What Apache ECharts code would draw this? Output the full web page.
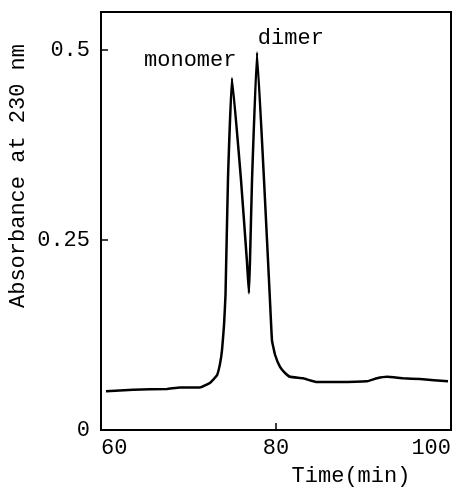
<!DOCTYPE html>
<html>
<head>
<meta charset="utf-8">
<script src="https://cdn.jsdelivr.net/npm/echarts@6/dist/echarts.min.js"></script>
<style>html,body{margin:0;padding:0;background:#fff}#c{width:455px;height:489px}</style>
</head>
<body>
<div id="c"></div>
<script>
// Time (min) and absorbance
const timeMin = [60.57, 63.66, 67.54, 69.03, 71.31, 72.46, 72.80, 73.26, 73.60, 73.83, 74.06, 74.23, 74.51, 74.97, 76.00, 76.69, 76.91, 77.03, 77.26, 77.83, 78.63, 79.31, 79.54, 79.89, 80.46, 81.03, 81.60, 83.09, 84.69, 86.97, 90.40, 91.54, 92.69, 94.51, 96.46, 99.66];
const absorbance = [0.051, 0.053, 0.054, 0.056, 0.056, 0.062, 0.066, 0.072, 0.087, 0.105, 0.138, 0.178, 0.329, 0.463, 0.329, 0.220, 0.180, 0.224, 0.329, 0.497, 0.329, 0.171, 0.118, 0.099, 0.083, 0.075, 0.070, 0.068, 0.063, 0.063, 0.064, 0.068, 0.070, 0.068, 0.067, 0.064];
const xTicks = [60, 80, 100];
const yTicks = [0, 0.25, 0.5];
const peakLabels = ['monomer', 'dimer'];
const peakLabelPos = [[70.2, 0.487], [81.7, 0.516]];

const font = 'Liberation Mono';
const chart = echarts.init(document.getElementById('c'));
chart.setOption({
  animation: false,
  backgroundColor: '#fff',
  grid: {left: 101, right: 4, top: 12, bottom: 59, show: true, borderColor: '#000', borderWidth: 2, backgroundColor: 'transparent'},
  xAxis: {
    type: 'value', min: xTicks[0], max: xTicks[xTicks.length - 1], interval: 20,
    axisLine: {show: true, lineStyle: {color: '#000', width: 2}},
    axisTick: {show: true, inside: true, length: 7, lineStyle: {color: '#000', width: 1.5}},
    splitLine: {show: false},
    axisLabel: {color: '#000', fontFamily: font, fontSize: 22, margin: 7,
      alignMinLabel: 'left', alignMaxLabel: 'right',
      formatter: v => xTicks.includes(v) ? String(v) : ''}
  },
  yAxis: {
    type: 'value', min: 0, max: 0.55, interval: 0.25,
    axisLine: {show: true, lineStyle: {color: '#000', width: 2}},
    axisTick: {show: true, inside: true, length: 7, lineStyle: {color: '#000', width: 1.5}},
    splitLine: {show: false},
    axisLabel: {color: '#000', fontFamily: font, fontSize: 22, margin: 11, showMaxLabel: false,
      formatter: v => yTicks.some(t => Math.abs(t - v) < 1e-9) ? String(v) : ''}
  },
  graphic: [
    {type: 'text', x: 18, y: 176, rotation: Math.PI / 2,
      style: {text: 'Absorbance at 230 nm', fill: '#000', font: '22px "Liberation Mono"', textAlign: 'center', textVerticalAlign: 'middle'}},
    {type: 'text', x: 351, y: 476,
      style: {text: 'Time(min)', fill: '#000', font: '22px "Liberation Mono"', textAlign: 'center', textVerticalAlign: 'middle'}}
  ],
  series: [{
    type: 'line',
    data: timeMin.map((t, i) => [t, absorbance[i]]),
    showSymbol: false,
    smooth: 0.1,
    lineStyle: {color: '#000', width: 2.5},
    markPoint: {
      symbol: 'circle', symbolSize: 1,
      itemStyle: {color: 'rgba(0,0,0,0)'},
      label: {show: true, position: 'inside', color: '#000', fontFamily: font, fontSize: 22},
      data: peakLabels.map((n, i) => ({coord: peakLabelPos[i], label: {formatter: n}}))
    }
  }]
});
</script>
</body>
</html>
